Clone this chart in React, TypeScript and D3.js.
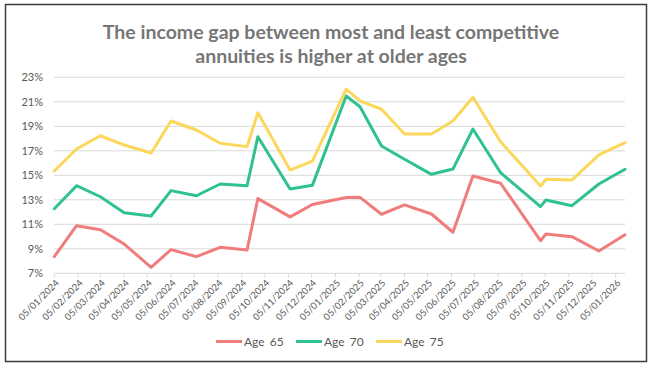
import * as React from "react";
import * as d3 from "d3";

// survey dates (dd/mm/yyyy in the source) and income gap in %
const dates = [
  "2024-01-05", "2024-02-03", "2024-03-05", "2024-04-05", "2024-05-10",
  "2024-06-05", "2024-07-08", "2024-08-08", "2024-09-12", "2024-09-26",
  "2024-11-07", "2024-12-06", "2025-01-19", "2025-02-06", "2025-03-06",
  "2025-04-05", "2025-05-10", "2025-06-07", "2025-07-03", "2025-08-08",
  "2025-09-29", "2025-10-06", "2025-11-09", "2025-12-14", "2026-01-17",
];
const age65 = [
  8.36, 10.89, 10.56, 9.39, 7.49, 8.93, 8.36, 9.12, 8.9, 13.1, 11.61, 12.62,
  13.18, 13.2, 11.82, 12.58, 11.84, 10.35, 14.94, 14.35, 9.66, 10.21, 9.99,
  8.82, 10.15,
];
const age70 = [
  12.27, 14.15, 13.25, 11.95, 11.68, 13.75, 13.33, 14.29, 14.15, 18.15, 13.88,
  14.18, 21.47, 20.6, 17.39, 16.31, 15.08, 15.51, 18.78, 15.21, 12.44, 12.98,
  12.52, 14.29, 15.49,
];
const age75 = [
  15.35, 17.15, 18.23, 17.47, 16.82, 19.43, 18.7, 17.62, 17.34, 20.1, 15.43,
  16.15, 22.03, 21.07, 20.39, 18.37, 18.37, 19.43, 21.37, 17.74, 14.13, 14.67,
  14.62, 16.66, 17.66,
];
const seriesNames = ["Age 65", "Age 70", "Age 75"];
const seriesColors = ["#f07c7c", "#2fc290", "#fbd75b"];
const yTicks = [7, 9, 11, 13, 15, 17, 19, 21, 23];
const titleLines = [
  "The income gap between most and least competitive",
  "annuities is higher at older ages",
];

const W = 658;
const H = 366;
const FONT = "Lato, 'Open Sans', sans-serif";

function drawChart(el: SVGSVGElement) {
  const svg = d3.select(el);
  svg.selectAll("*").remove();

  const parse = d3.utcParse("%Y-%m-%d");
  const xs = dates.map((d) => parse(d) as Date);

  const x = d3.scaleUtc().domain([xs[0], xs[xs.length - 1]]).range([54.3, 625]);
  const y = d3.scaleLinear().domain([7, 23]).range([273.3, 77.3]);

  // frame
  svg.append("rect")
    .attr("x", 5.5).attr("y", 4.5)
    .attr("width", 641).attr("height", 357)
    .attr("fill", "#fff")
    .attr("stroke", "#3c3c3c")
    .attr("stroke-width", 1.5);

  // title
  svg.append("g")
    .selectAll("text")
    .data(titleLines)
    .join("text")
    .attr("x", 331)
    .attr("y", (d, i) => 39 + i * 24)
    .attr("text-anchor", "middle")
    .attr("font-family", FONT)
    .attr("font-weight", 700)
    .attr("font-size", 19.5)
    .attr("fill", "#767676")
    .text((d) => d);

  // gridlines
  svg.append("g")
    .selectAll("line")
    .data(yTicks.slice(1))
    .join("line")
    .attr("x1", 54).attr("x2", 625)
    .attr("y1", (d) => y(d)).attr("y2", (d) => y(d))
    .attr("stroke", "#d9d9d9")
    .attr("stroke-width", 1);

  // y axis labels
  svg.append("g")
    .selectAll("text")
    .data(yTicks)
    .join("text")
    .attr("x", 43)
    .attr("y", (d) => y(d))
    .attr("dy", "0.35em")
    .attr("text-anchor", "end")
    .attr("font-family", FONT)
    .attr("font-size", 11)
    .attr("fill", "#595959")
    .text((d) => d + "%");

  // x axis: monthly ticks on the 5th
  const monthTicks = d3.utcMonth.every(1)!
    .range(d3.utcMonth.floor(xs[0]), xs[xs.length - 1])
    .map((d) => d3.utcDay.offset(d, 4));
  const xAxis = svg.append("g").attr("transform", `translate(0,${y(7)})`);
  xAxis.append("line")
    .attr("x1", 54).attr("x2", 625)
    .attr("stroke", "#d9d9d9");
  const fmt = d3.utcFormat("%d/%m/%Y");
  const tk = xAxis.selectAll("g.tick")
    .data(monthTicks)
    .join("g")
    .attr("class", "tick")
    .attr("transform", (d) => `translate(${x(d)},0)`);
  tk.append("line").attr("y2", 4).attr("stroke", "#d9d9d9");
  tk.append("text")
    .attr("transform", "translate(3,8) rotate(-45)")
    .attr("text-anchor", "end")
    .attr("dy", "0.35em")
    .attr("font-family", FONT)
    .attr("font-size", 9.5)
    .attr("fill", "#595959")
    .text((d) => fmt(d));

  // lines
  const allSeries = [age65, age70, age75];
  const line = d3.line<number>()
    .x((d, i) => x(xs[i]))
    .y((d) => y(d));
  svg.append("g")
    .selectAll("path")
    .data(allSeries)
    .join("path")
    .attr("d", (d) => line(d))
    .attr("fill", "none")
    .attr("stroke", (d, i) => seriesColors[i])
    .attr("stroke-width", 3)
    .attr("stroke-linejoin", "round")
    .attr("stroke-linecap", "round");

  // legend
  const lg = svg.append("g").attr("transform", "translate(216,341.5)");
  const item = lg.selectAll("g")
    .data(seriesNames)
    .join("g")
    .attr("transform", (d, i) => `translate(${i * 80},0)`);
  item.append("line")
    .attr("x1", 0).attr("x2", 26)
    .attr("stroke", (d, i) => seriesColors[i])
    .attr("stroke-width", 3);
  item.append("text")
    .attr("x", 28)
    .attr("dy", "0.35em")
    .attr("font-family", FONT)
    .attr("font-size", 12)
    .attr("fill", "#595959")
    .attr("word-spacing", 2)
    .text((d) => d);
}

const App = () => {
  const ref = React.useRef<SVGSVGElement>(null);
  React.useEffect(() => {
    if (ref.current) drawChart(ref.current);
  }, []);
  return (
    <svg
      ref={ref}
      width={W}
      height={H}
      style={{ position: "absolute", left: 0, top: 0, background: "#fff" }}
    />
  );
};

export default App;
